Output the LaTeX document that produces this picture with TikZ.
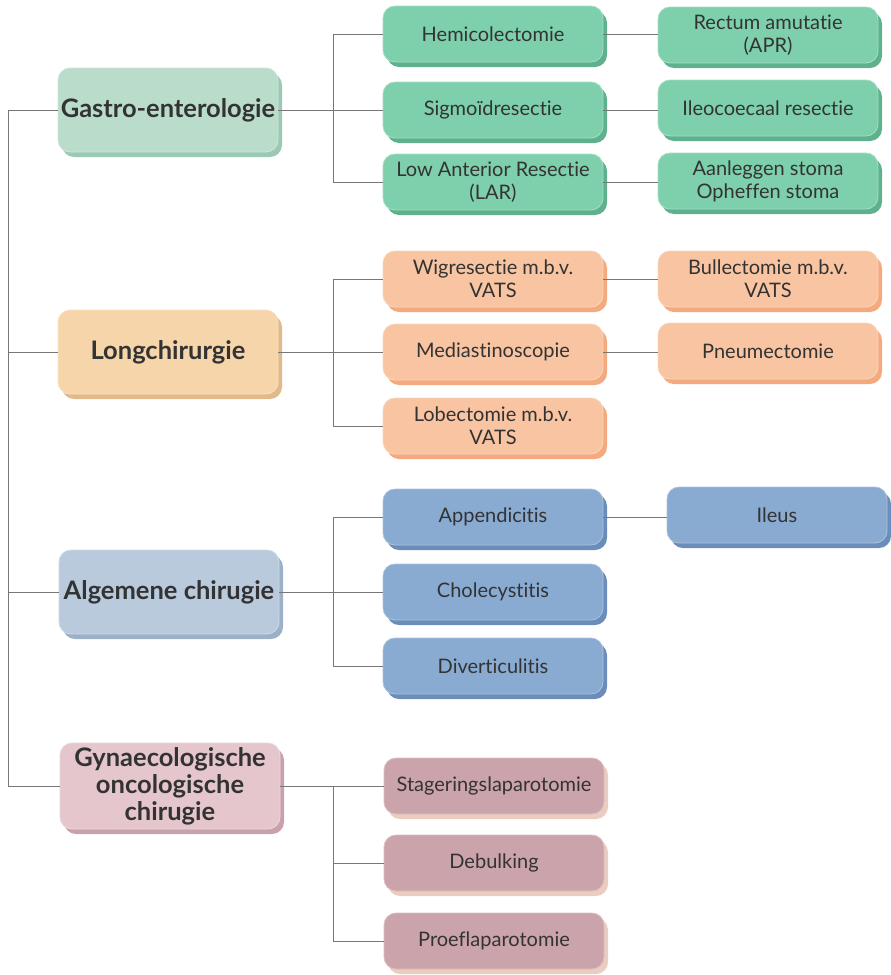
\documentclass[tikz,border=0pt]{standalone}
\usepackage{fontspec}
\setmainfont{Lato}[Ligatures={NoCommon}]
\usetikzlibrary{shadows}
\definecolor{txt}{HTML}{333333}
\definecolor{lnc}{HTML}{777777}
\definecolor{gcat}{HTML}{B9DCCB}\definecolor{gcats}{HTML}{9CC9B3}
\definecolor{gch}{HTML}{7DD0AB}\definecolor{gchs}{HTML}{5EB18C}
\definecolor{lcat}{HTML}{F6D5AA}\definecolor{lcats}{HTML}{E2B98A}
\definecolor{lch}{HTML}{F8C4A1}\definecolor{lchs}{HTML}{F4AA7E}
\definecolor{acat}{HTML}{B9CADD}\definecolor{acats}{HTML}{9CB0C8}
\definecolor{ach}{HTML}{89AAD1}\definecolor{achs}{HTML}{6A8DB9}
\definecolor{ycat}{HTML}{E4C6CC}\definecolor{ycats}{HTML}{C9A1AA}
\definecolor{ych}{HTML}{CBA3AB}\definecolor{ychs}{HTML}{EACDBF}
\tikzset{
  box/.style={rounded corners=12pt, align=center, text=txt, inner sep=1pt,
    font=\fontsize{20}{23}\selectfont},
  cat/.style 2 args={box, fill=#1, draw=#1!70!white, line width=0.8pt,
    general shadow={fill=#2, shadow xshift=4pt, shadow yshift=-5pt},
    minimum width=220pt, minimum height=84pt,
    font=\fontsize{25.5}{27}\selectfont\bfseries},
  kid/.style 2 args={box, fill=#1, draw=#1!70!white, line width=0.8pt,
    general shadow={fill=#2, shadow xshift=4pt, shadow yshift=-5pt},
    minimum width=220pt, minimum height=56pt},
  conn/.style={draw=lnc, line width=0.9pt},
}
\begin{document}
\begin{tikzpicture}[x=1pt,y=-1pt]
\useasboundingbox (0,0) rectangle (891,975);
\coordinate (sp) at (8,0);
\coordinate (sq) at (333,0);
% Gastro
\node[cat={gcat}{gcats}] (g) at (168,110) {Gastro-enterologie};
\node[kid={gch}{gchs}] (g1) at (493,34) {Hemicolectomie};
\node[kid={gch}{gchs}] (g2) at (493,110) {Sigmoïdresectie};
\node[kid={gch}{gchs}] (g3) at (493,182) {Low Anterior Resectie\\(LAR)};
\node[kid={gch}{gchs}] (g4) at (768,35) {Rectum amutatie\\(APR)};
\node[kid={gch}{gchs}] (g5) at (768,108) {Ileocoecaal resectie};
\node[kid={gch}{gchs}] (g6) at (768,181) {Aanleggen stoma\\Opheffen stoma};
% Long
\node[cat={lcat}{lcats}] (l) at (168,352) {Longchirurgie};
\node[kid={lch}{lchs}] (l1) at (493,279) {Wigresectie m.b.v.\\VATS};
\node[kid={lch}{lchs}] (l2) at (493,352) {Mediastinoscopie};
\node[kid={lch}{lchs}] (l3) at (493,426) {Lobectomie m.b.v.\\VATS};
\node[kid={lch}{lchs}] (l4) at (768,279) {Bullectomie m.b.v.\\VATS};
\node[kid={lch}{lchs}] (l5) at (768,351) {Pneumectomie};
% Algemeen
\node[cat={acat}{acats}] (a) at (169,592) {Algemene chirugie};
\node[kid={ach}{achs}] (a1) at (493,517) {Appendicitis};
\node[kid={ach}{achs}] (a2) at (493,592) {Cholecystitis};
\node[kid={ach}{achs}] (a3) at (493,666) {Diverticulitis};
\node[kid={ach}{achs}] (a4) at (777,515) {Ileus};
% Gynae
\node[cat={ycat}{ycats}, minimum height=86pt] (y) at (170,786) {Gynaecologische\\oncologische\\chirugie};
\node[kid={ych}{ychs}] (y1) at (494,786) {Stageringslaparotomie};
\node[kid={ych}{ychs}] (y2) at (494,863) {Debulking};
\node[kid={ych}{ychs}] (y3) at (494,941) {Proeflaparotomie};
% spine
\draw[conn] (g.west) -- (g.west -| sp) -- (y.west -| sp) -- (y.west);
\draw[conn] (l.west) -- (l.west -| sp);
\draw[conn] (a.west) -- (a.west -| sp);
% gastro branch
\draw[conn] (g1.west) -- (g1.west -| sq) -- (g3.west -| sq) -- (g3.west);
\draw[conn] (g.east) -- (g2.west);
\draw[conn] (g1.east) -- (g1.east -| g4.west);
\draw[conn] (g2.east) -- (g2.east -| g5.west);
\draw[conn] (g3.east) -- (g3.east -| g6.west);
% long branch
\draw[conn] (l1.west) -- (l1.west -| sq) -- (l3.west -| sq) -- (l3.west);
\draw[conn] (l.east) -- (l2.west);
\draw[conn] (l1.east) -- (l1.east -| l4.west);
\draw[conn] (l2.east) -- (l2.east -| l5.west);
% algemeen branch
\draw[conn] (a1.west) -- (a1.west -| sq) -- (a3.west -| sq) -- (a3.west);
\draw[conn] (a.east) -- (a2.west);
\draw[conn] (a1.east) -- (a1.east -| a4.west);
% gynae branch
\draw[conn] (y.east) -- (y1.west);
\draw[conn] (y1.west -| sq) -- (y3.west -| sq) -- (y3.west);
\draw[conn] (y2.west) -- (y2.west -| sq);
\end{tikzpicture}
\end{document}
